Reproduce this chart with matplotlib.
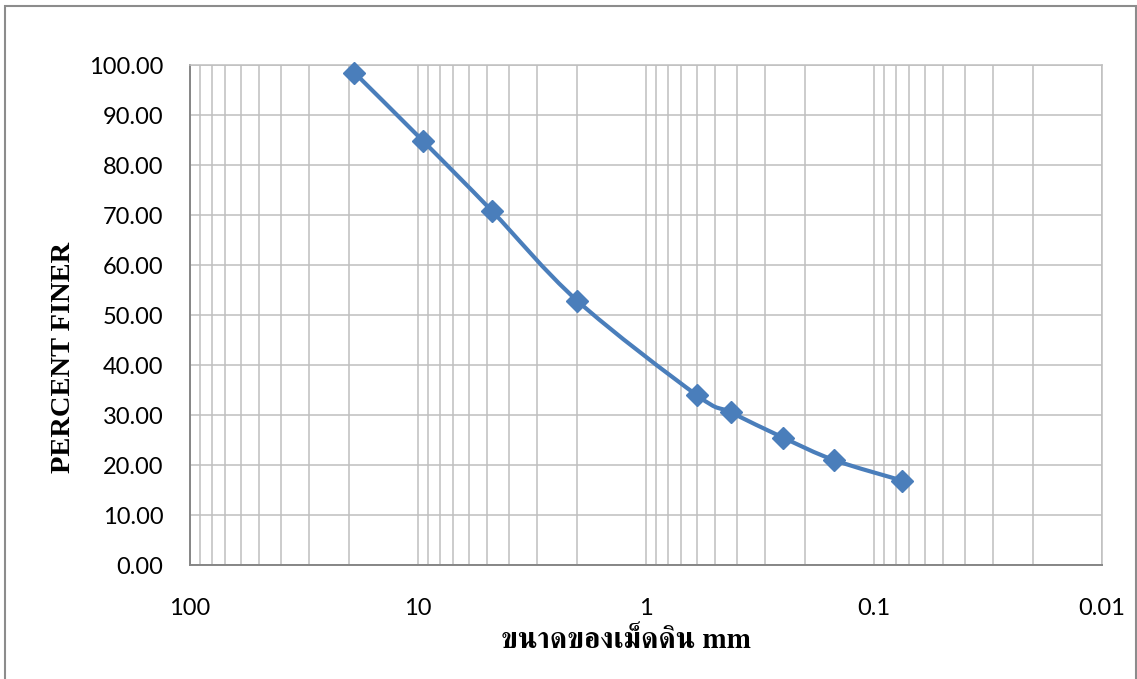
import matplotlib
matplotlib.use("Agg")
import numpy as np
import matplotlib.pyplot as plt
from matplotlib import font_manager
from matplotlib.ft2font import FT2Font
from matplotlib.path import Path
from matplotlib.patches import PathPatch, Rectangle

# Grain size distribution (sieve opening in mm vs. percent passing)
grain_size_mm = [19.0, 9.5, 4.75, 2.0, 0.6, 0.425, 0.25, 0.15, 0.075]
percent_finer = [98.46, 84.80, 70.86, 52.84, 34.00, 30.54, 25.46, 21.00, 16.86]

x_ticks = [100, 10, 1, 0.1, 0.01]
x_tick_labels = ["100", "10", "1", "0.1", "0.01"]
y_ticks = [0, 10, 20, 30, 40, 50, 60, 70, 80, 90, 100]

LINE_BLUE = "#4a7ebb"
GRID_GRAY = "#bfbfbf"
AXIS_GRAY = "#868686"


def thai_family():
    """Return the name of an installed font that covers Thai glyphs."""
    found = []
    for f in font_manager.fontManager.ttflist:
        try:
            cmap = FT2Font(f.fname).get_charmap()
        except Exception:
            continue
        if 0x0E02 in cmap and 0x0E19 in cmap:
            found.append(f.name)
    for pref in ("Serif", "Looped", "Sans Thai", ""):
        for name in found:
            if pref in name:
                return name
    return "DejaVu Sans"


tick_font = "Lato"
thai_font = thai_family()

fig = plt.figure(figsize=(11.37, 6.79), dpi=100)
ax = fig.add_axes([190 / 1137, 1 - 565 / 679, 912 / 1137, 500 / 679])

ax.set_xscale("log")
ax.set_xlim(100, 0.01)
ax.set_ylim(0, 100)

ax.set_xticks(x_ticks)
ax.set_xticklabels(x_tick_labels)
ax.set_yticks(y_ticks)
ax.set_yticklabels([f"{v:.2f}" for v in y_ticks])
ax.xaxis.set_minor_locator(matplotlib.ticker.LogLocator(base=10, subs=np.arange(2, 10)))
ax.xaxis.set_minor_formatter(matplotlib.ticker.NullFormatter())

ax.grid(True, which="both", axis="x", color=GRID_GRAY, linewidth=1.1)
ax.grid(True, which="major", axis="y", color=GRID_GRAY, linewidth=1.1)
ax.set_axisbelow(True)

ax.tick_params(axis="both", which="both", length=0)
ax.tick_params(axis="y", pad=19)
ax.tick_params(axis="x", pad=24)
for lab in ax.get_xticklabels() + ax.get_yticklabels():
    lab.set_fontfamily(tick_font)
    lab.set_fontsize(17)
    lab.set_color("black")

for side in ("left", "bottom"):
    ax.spines[side].set_color(AXIS_GRAY)
    ax.spines[side].set_linewidth(1.4)
for side in ("top", "right"):
    ax.spines[side].set_color(GRID_GRAY)
    ax.spines[side].set_linewidth(1.1)

# Smoothed line: Catmull-Rom segments as cubic Beziers in (log x, y) space
lx = np.log10(grain_size_mm)
py = np.array(percent_finer)
pts = np.column_stack([lx, py])
ext = np.vstack([pts[0], pts, pts[-1]])
verts = [pts[0]]
codes = [Path.MOVETO]
for i in range(1, len(ext) - 2):
    p0, p1, p2, p3 = ext[i - 1], ext[i], ext[i + 1], ext[i + 2]
    c1 = p1 + (p2 - p0) / 6.0
    c2 = p2 - (p3 - p1) / 6.0
    verts += [c1, c2, p2]
    codes += [Path.CURVE4] * 3
verts = np.array(verts)
verts[:, 0] = 10 ** verts[:, 0]
curve = PathPatch(Path(verts, codes), facecolor="none", edgecolor=LINE_BLUE,
                  linewidth=3.0, capstyle="round", joinstyle="round", zorder=3)
ax.add_patch(curve)

ax.plot(grain_size_mm, percent_finer, linestyle="none", marker="D",
        markersize=11.5, color=LINE_BLUE, markeredgecolor=LINE_BLUE,
        markeredgewidth=1, zorder=4, clip_on=False)

fig.text(63 / 1137, 1 - 357 / 679, "PERCENT FINER", rotation=90,
         ha="center", va="center", fontsize=20.5, fontweight="bold",
         family=["Liberation Serif", "DejaVu Serif"])
fig.text(626 / 1137, 1 - 641 / 679, "ขนาดของเม็ดดิน mm", ha="center",
         va="center", fontsize=21, fontweight="bold",
         family=[thai_font, "Liberation Serif", "DejaVu Sans"])

# Chart frame
fig.patches.append(Rectangle((5 / 1137, 0 - 0.01), 1131 / 1137, 1 - 6 / 679 + 0.01,
                             transform=fig.transFigure, fill=False,
                             edgecolor="#8c8c8c", linewidth=1.5))

fig.savefig("out.png", dpi=100, facecolor="white")
